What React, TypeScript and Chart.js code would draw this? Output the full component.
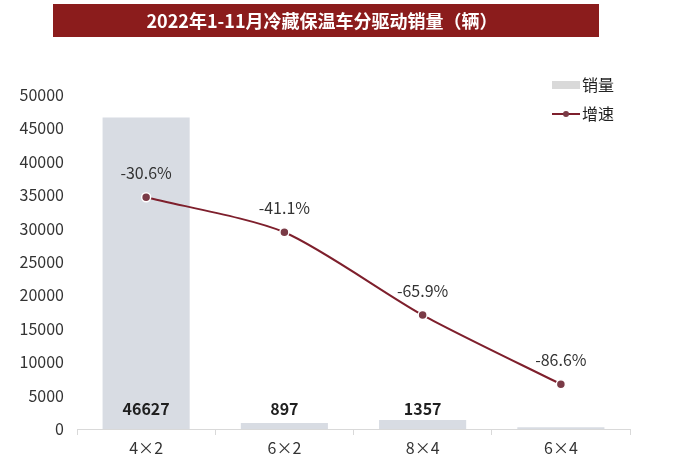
import React, { useEffect, useRef } from "react";
import { Chart, registerables } from "chart.js";

Chart.register(...registerables);

const TITLE = "2022年1-11月冷藏保温车分驱动销量（辆）";
const categories = ["4×2", "6×2", "8×4", "6×4"];
const sales = [46627, 897, 1357, 250];
const salesLabels = ["46627", "897", "1357", ""];
const growth = [-30.6, -41.1, -65.9, -86.6];
const yTicks = [0, 5000, 10000, 15000, 20000, 25000, 30000, 35000, 40000, 45000, 50000];

const FONT = "'Noto Sans CJK SC', 'Noto Sans', sans-serif";
const RED = "#8b1c1c";
const LINE = "#7e1f2c";
const BAR = "#d8dce3";

export default function App() {
  const ref = useRef<HTMLCanvasElement | null>(null);
  useEffect(() => {
    if (!ref.current) return;
    const decor = {
      id: "decor",
      beforeDraw(chart: any) {
        const ctx = chart.ctx;
        ctx.save();
        ctx.fillStyle = "#ffffff";
        ctx.fillRect(0, 0, chart.width, chart.height);
        ctx.fillStyle = RED;
        ctx.fillRect(53, 4, 546, 33);
        ctx.fillStyle = "#ffffff";
        ctx.font = `bold 18px ${FONT}`;
        ctx.textAlign = "center";
        ctx.textBaseline = "middle";
        ctx.fillText(TITLE, 322, 21);
        ctx.restore();
      },
      afterDatasetsDraw(chart: any) {
        const ctx = chart.ctx;
        ctx.save();
        ctx.textAlign = "center";
        ctx.textBaseline = "middle";
        const yScale = chart.scales.y;
        const baseY = yScale.getPixelForValue(0);
        const barMeta = chart.getDatasetMeta(0);
        ctx.font = `bold 16px ${FONT}`;
        ctx.fillStyle = "#1f1f1f";
        barMeta.data.forEach((el: any, i: number) => {
          if (salesLabels[i]) ctx.fillText(salesLabels[i], el.x, baseY - 20);
        });
        const lineMeta = chart.getDatasetMeta(1);
        ctx.font = `16px ${FONT}`;
        ctx.fillStyle = "#333333";
        lineMeta.data.forEach((el: any, i: number) => {
          ctx.fillText(growth[i].toFixed(1) + "%", el.x, el.y - 24);
        });
        // legend
        ctx.fillStyle = "#d9d9d9";
        ctx.fillRect(552, 81, 28, 8);
        ctx.strokeStyle = LINE;
        ctx.lineWidth = 2;
        ctx.beginPath();
        ctx.moveTo(552, 114);
        ctx.lineTo(580, 114);
        ctx.stroke();
        ctx.fillStyle = "#7a3a46";
        ctx.beginPath();
        ctx.arc(566, 114, 3, 0, Math.PI * 2);
        ctx.fill();
        ctx.font = `16px ${FONT}`;
        ctx.fillStyle = "#222222";
        ctx.textAlign = "left";
        ctx.fillText("销量", 582, 85);
        ctx.fillText("增速", 582, 114);
        ctx.restore();
      },
    };
    const chart = new Chart(ref.current, {
      type: "bar",
      data: {
        labels: categories,
        datasets: [
          {
            type: "bar",
            label: "销量",
            data: sales,
            backgroundColor: BAR,
            borderWidth: 0,
            barPercentage: 0.63,
            categoryPercentage: 1,
            yAxisID: "y",
            order: 2,
          },
          {
            type: "line",
            label: "增速",
            data: growth,
            borderColor: LINE,
            borderWidth: 2,
            tension: 0.25,
            pointRadius: 4.5,
            pointBackgroundColor: "#7a3a46",
            pointBorderColor: "#ffffff",
            pointBorderWidth: 1.5,
            yAxisID: "y1",
            order: 1,
          } as any,
        ],
      },
      options: {
        responsive: false,
        animation: false,
        devicePixelRatio: 1,
        layout: { padding: { top: 95, right: 70, bottom: 0, left: 0 } },
        plugins: {
          legend: { display: false },
          tooltip: { enabled: false },
          title: { display: false },
        },
        scales: {
          x: {
            grid: {
              display: true,
              drawOnChartArea: false,
              drawTicks: true,
              tickLength: 6,
              color: "#d9d9d9",
              offset: true,
            },
            border: { display: true, color: "#d9d9d9", width: 1 },
            ticks: {
              color: "#333333",
              font: { family: FONT, size: 16 },
              padding: 3,
            },
            afterFit(scale: any) {
              scale.height = 34;
            },
          },
          y: {
            min: 0,
            max: 50000,
            afterBuildTicks(scale: any) {
              scale.ticks = yTicks.map((v) => ({ value: v }));
            },
            grid: { display: false, drawTicks: false },
            border: { display: false },
            ticks: {
              color: "#333333",
              font: { family: FONT, size: 16 },
              padding: 13,
              callback: (v: any) => String(v),
            },
            afterFit(scale: any) {
              scale.width = 77;
            },
          },
          y1: {
            display: false,
            min: -100,
            max: 0,
            position: "right",
          },
        },
      },
      plugins: [decor],
    });
    return () => chart.destroy();
  }, []);
  return (
    <div style={{ position: "fixed", left: 0, top: 0, width: 700, height: 463, background: "#fff" }}>
      <canvas ref={ref} width={700} height={463} style={{ width: 700, height: 463, display: "block" }} />
    </div>
  );
}
